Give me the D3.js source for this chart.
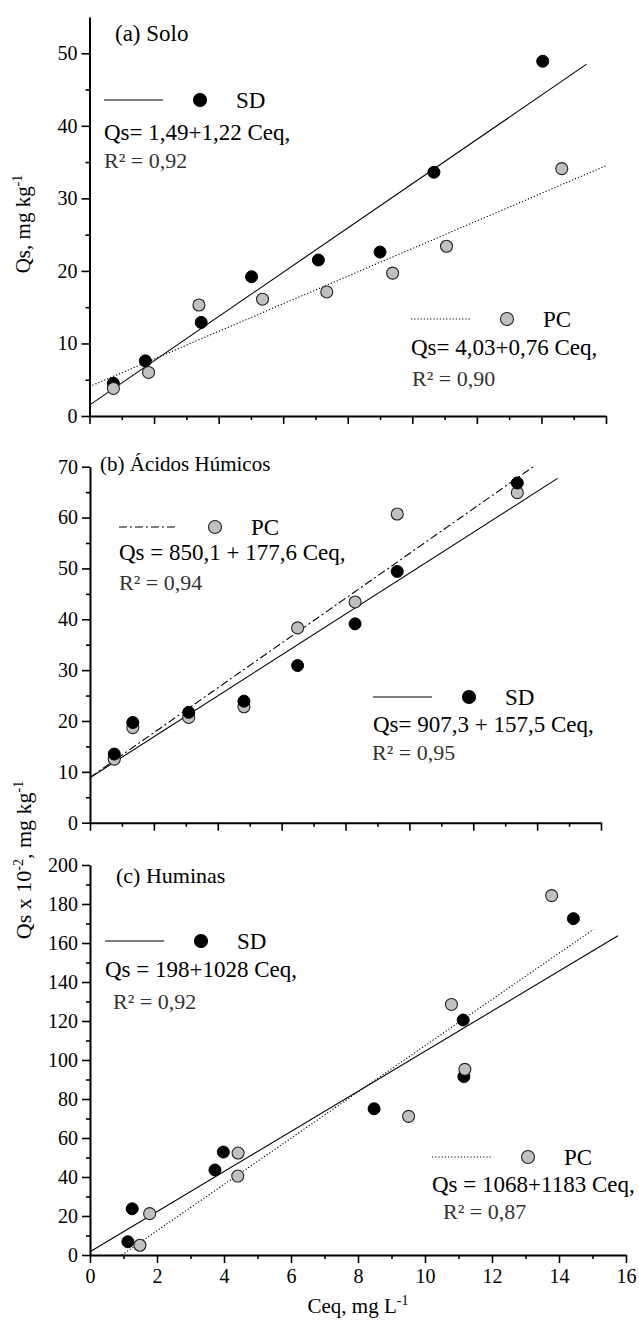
<!DOCTYPE html>
<html>
<head>
<meta charset="utf-8">
<script src="https://cdn.jsdelivr.net/npm/d3@7"></script>
<style>
  body { margin: 0; background: #fff; }
  svg { display: block; font-family: 'Liberation Serif', 'Times New Roman', serif; }
</style>
</head>
<body>
<svg id="chart"></svg>
<script>
// (a) Solo -- [Ceq, Qs]
const soloSD = [[0.74, 4.5], [1.73, 7.6], [3.46, 12.9], [5.02, 19.2], [7.09, 21.5], [9.0, 22.6], [10.67, 33.6], [14.04, 48.9]]
const soloPC = [[0.74, 3.8], [1.83, 6.0], [3.39, 15.3], [5.36, 16.1], [7.35, 17.1], [9.39, 19.7], [11.06, 23.4], [14.63, 34.1]]
const soloFitSD = [[0, 1.5], [15.4, 48.5]]
const soloFitPC = [[0, 4.05], [16, 34.5]]

// (b) Acidos Humicos
const humSD = [[0.76, 13.5], [1.34, 19.7], [3.09, 21.7], [4.82, 23.9], [6.5, 30.9], [8.3, 39.1], [9.62, 49.4], [13.38, 66.8]]
const humPC = [[0.76, 12.5], [1.34, 18.7], [3.09, 20.7], [4.82, 22.8], [6.5, 38.3], [8.3, 43.4], [9.62, 60.7], [13.38, 64.9]]
const humFitSD = [[0, 8.85], [14.64, 67.7]]
const humFitPC = [[0, 8.9], [13.88, 70]]

// (c) Huminas
const huminSD = [[1.13, 6.8], [1.26, 23.7], [3.73, 43.6], [3.98, 52.8], [8.48, 75.0], [11.14, 120.5], [11.16, 91.5], [14.43, 172.5]]
const huminPC = [[1.49, 5.0], [1.78, 21.2], [4.41, 40.5], [4.42, 52.3], [9.51, 71.1], [10.79, 128.5], [11.19, 95.2], [13.78, 184.3]]
const huminFitSD = [[0, 1.7], [15.76, 163.7]]
const huminFitPC = [[0.95, 0], [15.03, 167]]

// ticks
const xTicks = [0, 2, 4, 6, 8, 10, 12, 14, 16]
const xMinor = d3.range(1, 16, 2)
const soloYTicks = [0, 10, 20, 30, 40, 50]
const humYTicks = [0, 10, 20, 30, 40, 50, 60, 70]
const huminYTicks = [0, 20, 40, 60, 80, 100, 120, 140, 160, 180, 200]

const W = 639
const H = 1320
const grey = '#c0c0c0'

const svg = d3.select('#chart').attr('width', W).attr('height', H)

const panels = [
  {
    title: '(a) Solo', titleX: 115, titleY: 41, titleSize: 23,
    x: d3.scaleLinear().domain([0, 16]).range([89.5, 606]),
    y: d3.scaleLinear().domain([0, 55]).range([416, 17]),
    yTicks: soloYTicks, yMinor: d3.range(5, 55, 10), xLabels: false,
    sd: soloSD, pc: soloPC, fitSD: soloFitSD, fitPC: soloFitPC,
    pcDash: '1.2,2', pcOnTop: true,
    legSD: { x: 104, y: 100, eq: 'Qs= 1,49+1,22 Ceq,', r2: 'R² = 0,92', eqY: 140, r2X: 104, r2Y: 168 },
    legPC: { x: 411, y: 319, eq: 'Qs= 4,03+0,76 Ceq,', r2: 'R² = 0,90', eqY: 355, r2X: 412, r2Y: 386 }
  },
  {
    title: '(b) Ácidos Húmicos', titleX: 100, titleY: 471, titleSize: 21,
    x: d3.scaleLinear().domain([0, 16]).range([90, 601]),
    y: d3.scaleLinear().domain([0, 70]).range([822.7, 466.7]),
    yTicks: humYTicks, yMinor: d3.range(5, 70, 10), xLabels: false,
    sd: humSD, pc: humPC, fitSD: humFitSD, fitPC: humFitPC,
    pcDash: '8,3,2,3', pcOnTop: false,
    legPC: { x: 119, y: 527, eq: 'Qs = 850,1 + 177,6 Ceq,', r2: 'R² = 0,94', eqY: 560, r2X: 119, r2Y: 590 },
    legSD: { x: 373, y: 697, eq: 'Qs= 907,3 + 157,5 Ceq,', r2: 'R² = 0,95', eqY: 732, r2X: 372, r2Y: 760 }
  },
  {
    title: '(c) Huminas', titleX: 116, titleY: 883, titleSize: 22,
    x: d3.scaleLinear().domain([0, 16]).range([90, 626]),
    y: d3.scaleLinear().domain([0, 200]).range([1255, 865]),
    yTicks: huminYTicks, yMinor: d3.range(10, 200, 20), xLabels: true,
    sd: huminSD, pc: huminPC, fitSD: huminFitSD, fitPC: huminFitPC,
    pcDash: '1.2,2', pcOnTop: true,
    legSD: { x: 105, y: 941, eq: 'Qs = 198+1028 Ceq,', r2: 'R² = 0,92', eqY: 977, r2X: 113, r2Y: 1009 },
    legPC: { x: 432, y: 1157, eq: 'Qs = 1068+1183 Ceq,', r2: 'R² = 0,87', eqY: 1192, r2X: 443, r2Y: 1219 }
  }
]

const line = (p) => d3.line().x(d => p.x(d[0])).y(d => p.y(d[1]))

panels.forEach(p => {
  const g = svg.append('g')
  const x0 = p.x.range()[0]
  const y0 = p.y.range()[0]

  // axes
  g.append('g').attr('transform', 'translate(' + x0 + ',0)')
    .call(d3.axisLeft(p.y).tickValues(p.yTicks).tickSize(8).tickPadding(4).tickSizeOuter(0))
  g.append('g').attr('transform', 'translate(' + x0 + ',0)')
    .call(d3.axisLeft(p.y).tickValues(p.yMinor).tickSize(4).tickFormat('').tickSizeOuter(0))
    .call(a => a.select('.domain').remove())

  g.append('g').attr('transform', 'translate(0,' + y0 + ')')
    .call(d3.axisBottom(p.x).tickValues(xTicks).tickSize(8).tickPadding(6).tickSizeOuter(0)
      .tickFormat(p.xLabels ? d3.format('d') : ''))
  g.append('g').attr('transform', 'translate(0,' + y0 + ')')
    .call(d3.axisBottom(p.x).tickValues(xMinor).tickSize(4).tickFormat('').tickSizeOuter(0))
    .call(a => a.select('.domain').remove())

  g.selectAll('.domain').attr('stroke', '#000').attr('stroke-width', 2)
  g.selectAll('.tick line').attr('stroke', '#000').attr('stroke-width', 1.6)
  g.selectAll('.tick text').attr('font-family', 'Liberation Serif').attr('font-size', 20).attr('fill', '#000')

  // fit lines
  g.append('path').datum(p.fitSD).attr('d', line(p))
    .attr('fill', 'none').attr('stroke', '#000').attr('stroke-width', 1.1)
  g.append('path').datum(p.fitPC).attr('d', line(p))
    .attr('fill', 'none').attr('stroke', '#000').attr('stroke-width', 1.1)
    .attr('stroke-dasharray', p.pcDash)

  // points
  const drawSD = () => g.append('g').selectAll('circle').data(p.sd).join('circle')
    .attr('cx', d => p.x(d[0])).attr('cy', d => p.y(d[1])).attr('r', 6)
    .attr('fill', '#000').attr('stroke', '#000').attr('stroke-width', 1)
  const drawPC = () => g.append('g').selectAll('circle').data(p.pc).join('circle')
    .attr('cx', d => p.x(d[0])).attr('cy', d => p.y(d[1])).attr('r', 6)
    .attr('fill', grey).attr('stroke', '#222').attr('stroke-width', 1.1)
  if (p.pcOnTop) { drawSD(); drawPC() } else { drawPC(); drawSD() }

  // panel title
  g.append('text').text(p.title).attr('x', p.titleX).attr('y', p.titleY)
    .attr('font-size', p.titleSize).attr('fill', '#000')

  // legends
  const legend = (l, label, isPC) => {
    const lg = g.append('g')
    lg.append('line').attr('x1', l.x).attr('x2', l.x + 59).attr('y1', l.y).attr('y2', l.y)
      .attr('stroke', '#000').attr('stroke-width', 1.1)
      .attr('stroke-dasharray', isPC ? p.pcDash : null)
    lg.append('circle').attr('cx', l.x + 96).attr('cy', l.y).attr('r', 6.5)
      .attr('fill', isPC ? grey : '#000').attr('stroke', isPC ? '#222' : '#000').attr('stroke-width', 1.1)
    lg.append('text').text(label).attr('x', l.x + 132).attr('y', l.y + 8)
      .attr('font-size', 23).attr('fill', '#000')
    lg.append('text').text(l.eq).attr('x', l.x).attr('y', l.eqY)
      .attr('font-size', 23).attr('fill', '#000')
    lg.append('text').text(l.r2).attr('x', l.r2X).attr('y', l.r2Y)
      .attr('font-size', 22).attr('fill', '#333')
  }
  legend(p.legSD, 'SD', false)
  legend(p.legPC, 'PC', true)
})

// axis titles
const yt1 = svg.append('text').attr('transform', 'translate(30,224) rotate(-90)')
  .attr('text-anchor', 'middle').attr('font-size', 21)
yt1.append('tspan').text('Qs, mg kg')
yt1.append('tspan').text('-1').attr('font-size', 14).attr('dy', -8)

const yt2 = svg.append('text').attr('transform', 'translate(31,860) rotate(-90)')
  .attr('text-anchor', 'middle').attr('font-size', 22)
yt2.append('tspan').text('Qs x 10')
yt2.append('tspan').text('-2').attr('font-size', 14).attr('dy', -8)
yt2.append('tspan').text(', mg kg').attr('dy', 8)
yt2.append('tspan').text('-1').attr('font-size', 14).attr('dy', -8)

const xt = svg.append('text').attr('x', 358).attr('y', 1313)
  .attr('text-anchor', 'middle').attr('font-size', 21)
xt.append('tspan').text('Ceq, mg L')
xt.append('tspan').text('-1').attr('font-size', 14).attr('dy', -8)
</script>
</body>
</html>
